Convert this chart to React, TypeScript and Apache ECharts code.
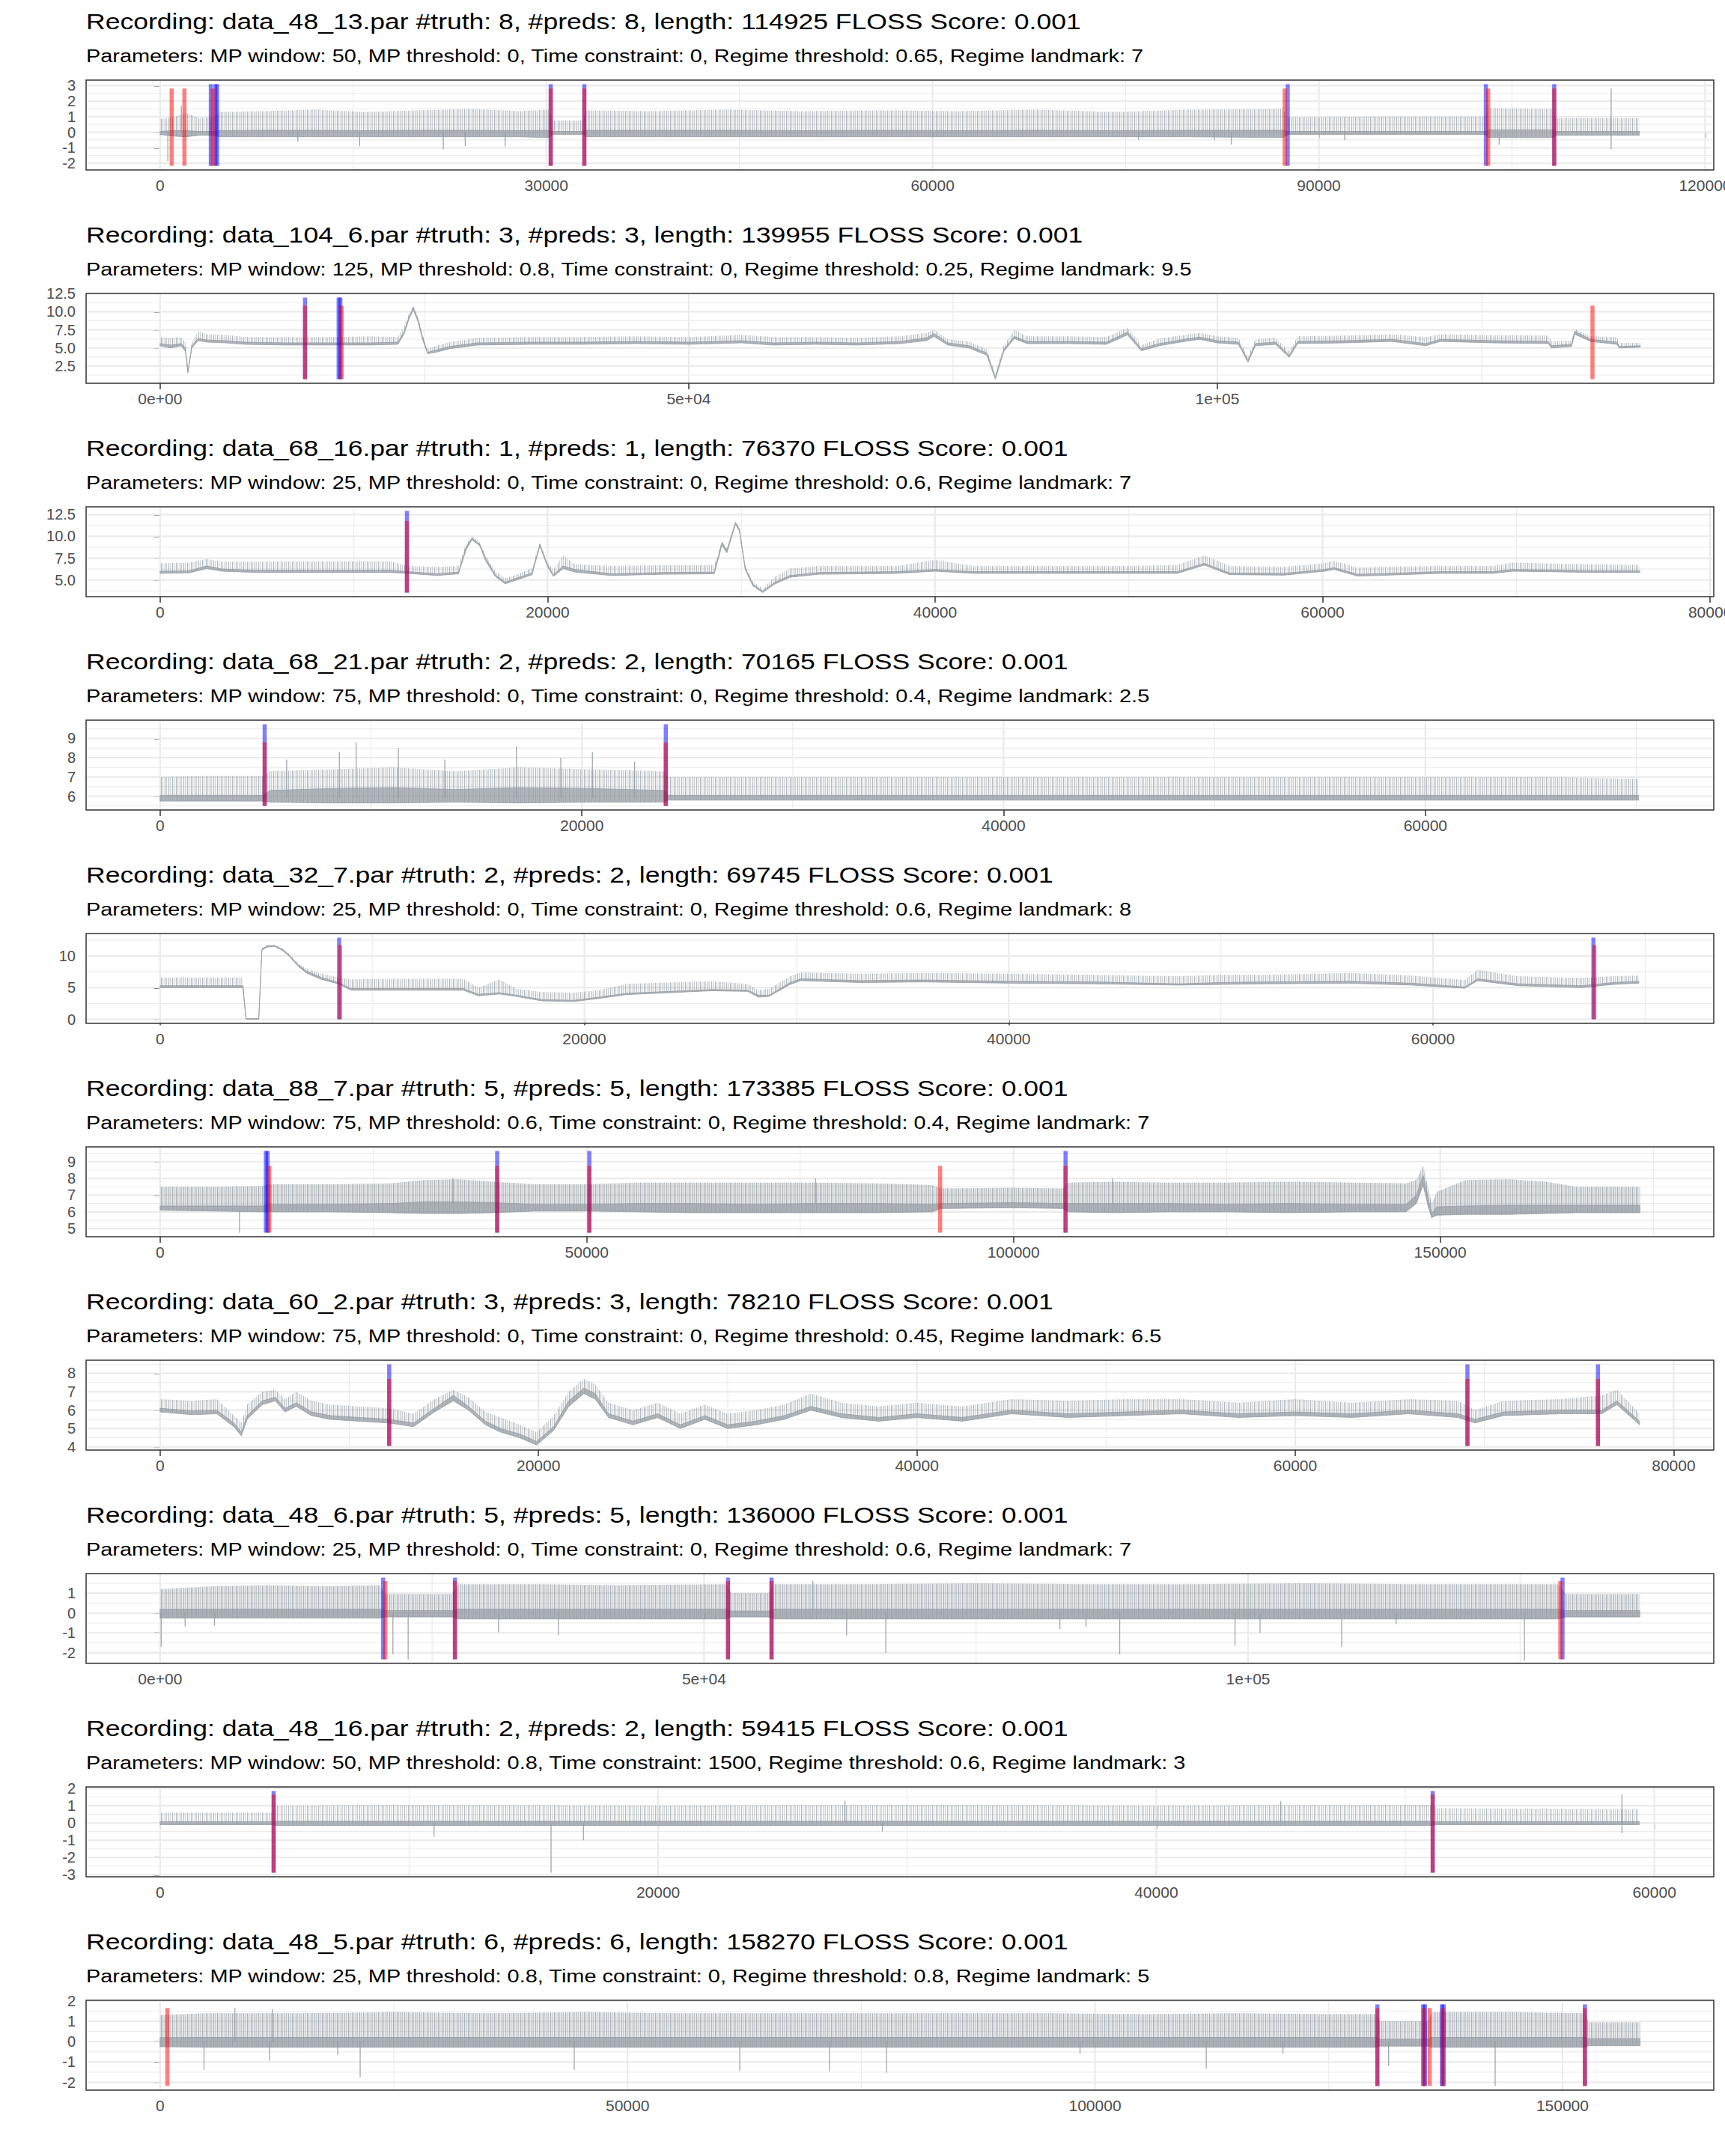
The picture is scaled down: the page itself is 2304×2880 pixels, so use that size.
import React, { useEffect, useRef } from "react";
import * as echarts from "echarts";

const FONT = "'Liberation Sans', Arial, Helvetica, sans-serif";

// ---------- panel metadata ----------
const recordings = ["data_48_13.par", "data_104_6.par", "data_68_16.par", "data_68_21.par", "data_32_7.par", "data_88_7.par", "data_60_2.par", "data_48_6.par", "data_48_16.par", "data_48_5.par"];
const truthCounts = [8, 3, 1, 2, 2, 5, 3, 5, 2, 6];
const predCounts = [8, 3, 1, 2, 2, 5, 3, 5, 2, 6];
const lengths = [114925, 139955, 76370, 70165, 69745, 173385, 78210, 136000, 59415, 158270];
const flossScores = ["0.001", "0.001", "0.001", "0.001", "0.001", "0.001", "0.001", "0.001", "0.001", "0.001"];
const mpWindow = ["50", "125", "25", "75", "25", "75", "75", "25", "50", "25"];
const mpThreshold = ["0", "0.8", "0", "0", "0", "0.6", "0", "0", "0.8", "0.8"];
const timeConstraint = ["0", "0", "0", "0", "0", "0", "0", "0", "1500", "0"];
const regimeThreshold = ["0.65", "0.25", "0.6", "0.4", "0.6", "0.4", "0.45", "0.6", "0.6", "0.8"];
const regimeLandmark = ["7", "9.5", "7", "2.5", "8", "7", "6.5", "7", "3", "5"];

// data extents on y (signal min, prediction-line top) and truth-line top (signal max)
const yLow = [-2.17, 0.68, 3.55, 5.5, 0, 4.76, 4.05, -2.33, -2.88, -2.18];
const yHigh = [3.09, 11.96, 12.92, 9.74, 12.9, 9.64, 8.49, 1.78, 1.85, 1.83];
const truthTop = [2.81, 10.84, 11.75, 8.8, 11.7, 8.75, 7.7, 1.61, 1.65, 1.65];

// ---------- ticks ----------
const xMajor = [
  [0, 30000, 60000, 90000, 120000],
  [0, 50000, 100000],
  [0, 20000, 40000, 60000, 80000],
  [0, 20000, 40000, 60000],
  [0, 20000, 40000, 60000],
  [0, 50000, 100000, 150000],
  [0, 20000, 40000, 60000, 80000],
  [0, 50000, 100000],
  [0, 20000, 40000, 60000],
  [0, 50000, 100000, 150000],
];
const xMajorLabels = [
  ["0", "30000", "60000", "90000", "120000"],
  ["0e+00", "5e+04", "1e+05"],
  ["0", "20000", "40000", "60000", "80000"],
  ["0", "20000", "40000", "60000"],
  ["0", "20000", "40000", "60000"],
  ["0", "50000", "100000", "150000"],
  ["0", "20000", "40000", "60000", "80000"],
  ["0e+00", "5e+04", "1e+05"],
  ["0", "20000", "40000", "60000"],
  ["0", "50000", "100000", "150000"],
];
const xMinor = [
  [15000, 45000, 75000, 105000],
  [25000, 75000, 125000],
  [10000, 30000, 50000, 70000],
  [10000, 30000, 50000, 70000],
  [10000, 30000, 50000, 70000],
  [25000, 75000, 125000, 175000],
  [10000, 30000, 50000, 70000],
  [25000, 75000, 125000],
  [10000, 30000, 50000],
  [25000, 75000, 125000],
];
const yMajor = [
  [-2, -1, 0, 1, 2, 3],
  [2.5, 5, 7.5, 10, 12.5],
  [5, 7.5, 10, 12.5],
  [6, 7, 8, 9],
  [0, 5, 10],
  [5, 6, 7, 8, 9],
  [4, 5, 6, 7, 8],
  [-2, -1, 0, 1],
  [-3, -2, -1, 0, 1, 2],
  [-2, -1, 0, 1, 2],
];
const yMajorLabels = [
  ["-2", "-1", "0", "1", "2", "3"],
  ["2.5", "5.0", "7.5", "10.0", "12.5"],
  ["5.0", "7.5", "10.0", "12.5"],
  ["6", "7", "8", "9"],
  ["0", "5", "10"],
  ["5", "6", "7", "8", "9"],
  ["4", "5", "6", "7", "8"],
  ["-2", "-1", "0", "1"],
  ["-3", "-2", "-1", "0", "1", "2"],
  ["-2", "-1", "0", "1", "2"],
];
const yMinor = [
  [-1.5, -0.5, 0.5, 1.5, 2.5],
  [1.25, 3.75, 6.25, 8.75, 11.25],
  [3.75, 6.25, 8.75, 11.25],
  [5.5, 6.5, 7.5, 8.5, 9.5],
  [2.5, 7.5, 12.5],
  [5.5, 6.5, 7.5, 8.5, 9.5],
  [4.5, 5.5, 6.5, 7.5, 8.5],
  [-2.5, -1.5, -0.5, 0.5, 1.5],
  [-2.5, -1.5, -0.5, 0.5, 1.5],
  [-1.5, -0.5, 0.5, 1.5],
];

// ---------- change points (x in thousands) ----------
const truth1 = [0.9, 1.89, 4.09, 30.34, 32.95, 87.35, 103.15, 108.28];
const preds1 = [3.94, 4.29, 4.43, 30.34, 32.95, 87.58, 102.97, 108.28];
const truth2 = [13.71, 17.17, 135.48];
const preds2 = [13.71, 16.89, 17.05];
const truth3 = [12.74];
const preds3 = [12.74];
const truth4 = [4.96, 23.98];
const preds4 = [4.96, 23.98];
const truth5 = [8.48, 67.6];
const preds5 = [8.44, 67.56];
const truth6 = [12.8, 39.5, 50.3, 91.4, 106.1];
const preds6 = [12.4, 12.6, 39.5, 50.3, 106.1];
const truth7 = [12.11, 69.1, 76.0];
const preds7 = [12.11, 69.1, 76.0];
const truth8 = [20.7, 27.1, 52.2, 56.2, 128.7];
const preds8 = [20.5, 27.1, 52.2, 56.2, 128.9];
const truth9 = [4.56, 51.1];
const preds9 = [4.56, 51.1];
const truth10 = [0.78, 130.2, 135.2, 135.8, 137.2, 152.4];
const preds10 = [130.2, 135.1, 135.3, 137.1, 137.3, 152.4];

// ---------- signal envelopes: [x (thousands), low, dense-core top, spike top] ----------
const sig1 = [
  [0, -0.15, 0.05, 0.85], [1.0, -0.25, 0.1, 0.95], [2.0, -0.3, 0.1, 1.25], [3.0, -0.2, 0.05, 0.9],
  [4.2, -0.2, 0.05, 0.95], [4.6, -0.3, 0.1, 1.3], [8, -0.3, 0.12, 1.35], [12, -0.3, 0.12, 1.45],
  [16, -0.3, 0.1, 1.3], [20, -0.3, 0.12, 1.4], [24, -0.3, 0.12, 1.5], [28, -0.3, 0.1, 1.35],
  [30.2, -0.35, 0.12, 1.45], [30.5, -0.15, 0.05, 0.75], [32.8, -0.15, 0.05, 0.75], [33.1, -0.3, 0.12, 1.4],
  [38, -0.3, 0.12, 1.35], [44, -0.3, 0.12, 1.45], [50, -0.3, 0.1, 1.35], [56, -0.3, 0.12, 1.4],
  [62, -0.3, 0.1, 1.35], [68, -0.3, 0.12, 1.45], [74, -0.3, 0.1, 1.3], [80, -0.3, 0.12, 1.45],
  [87.2, -0.35, 0.12, 1.5], [87.6, -0.15, 0.05, 0.95], [95, -0.15, 0.05, 1.0], [102.9, -0.15, 0.05, 1.0],
  [103.2, -0.35, 0.15, 1.55], [108.2, -0.35, 0.15, 1.5], [108.4, -0.2, 0.05, 0.9], [114.9, -0.2, 0.05, 0.9],
];
const sig2 = [
  [0, 5.3, 5.6, 6.5], [1.0, 5.0, 5.4, 6.4], [2.0, 5.3, 5.6, 6.5], [2.4, 4.5, 5.0, 5.8], [2.63, 1.55, 1.7, 1.9],
  [3.0, 5.0, 5.3, 5.8], [3.6, 6.0, 6.3, 7.3], [4.5, 5.8, 6.1, 6.9], [6.2, 5.7, 6.0, 6.8], [8, 5.5, 5.8, 6.5],
  [12, 5.4, 5.7, 6.5], [16, 5.4, 5.7, 6.5], [20, 5.4, 5.7, 6.6], [22.5, 5.5, 5.8, 6.5], [23.1, 7.0, 7.3, 8.0],
  [23.5, 8.8, 9.1, 9.6], [23.95, 10.3, 10.6, 10.84], [24.4, 8.6, 8.9, 9.3], [24.8, 6.3, 6.6, 7.0], [25.3, 4.2, 4.4, 4.8],
  [26.1, 4.4, 4.7, 5.3], [27.4, 4.9, 5.2, 5.8], [30, 5.4, 5.7, 6.4], [35, 5.5, 5.8, 6.5], [40, 5.5, 5.8, 6.5],
  [45, 5.6, 5.9, 6.6], [50, 5.5, 5.8, 6.5], [55, 5.7, 6.0, 6.8], [58, 5.4, 5.7, 6.5], [62, 5.5, 5.8, 6.5],
  [66, 5.4, 5.7, 6.4], [70, 5.6, 5.9, 6.6], [72.5, 6.0, 6.4, 7.1], [73.2, 6.6, 7.0, 7.5], [74.5, 5.4, 5.7, 6.2],
  [76.5, 5.0, 5.3, 5.9], [78.2, 4.0, 4.3, 4.8], [79.0, 0.68, 1.0, 1.3], [79.8, 4.5, 4.8, 5.4], [80.8, 6.3, 6.6, 7.5],
  [82, 5.6, 5.9, 6.6], [86, 5.6, 5.9, 6.6], [89.5, 5.5, 5.8, 6.5], [91.5, 6.8, 7.2, 7.8], [92.8, 4.6, 4.9, 5.4],
  [94.5, 5.3, 5.6, 6.3], [96.5, 5.8, 6.1, 6.7], [98.3, 6.2, 6.5, 7.1], [100, 5.7, 6.0, 6.6], [102, 5.5, 5.8, 6.4],
  [102.9, 3.0, 3.3, 3.8], [103.6, 5.3, 5.6, 6.2], [105.5, 5.5, 5.8, 6.4], [106.8, 3.7, 4.0, 4.5], [107.6, 5.6, 5.9, 6.6],
  [112, 5.7, 6.0, 6.7], [116.5, 5.9, 6.2, 6.9], [119.7, 5.3, 5.6, 6.5], [121.1, 5.9, 6.2, 6.9], [126, 5.7, 6.0, 6.75],
  [131.3, 5.6, 5.9, 6.7], [131.6, 5.0, 5.3, 5.9], [133.5, 5.2, 5.5, 6.0], [133.8, 6.9, 7.3, 7.64], [135.3, 5.9, 6.2, 6.6],
  [137.8, 5.5, 5.8, 6.5], [138.0, 5.0, 5.2, 5.7], [140.0, 5.1, 5.3, 5.7],
];
const sig3 = [
  [0, 5.75, 6.0, 6.9], [1.5, 5.8, 6.05, 7.0], [2.4, 6.3, 6.6, 7.4], [3.2, 6.0, 6.25, 7.1], [5, 5.85, 6.1, 7.1],
  [8, 5.85, 6.1, 7.15], [11.9, 5.85, 6.1, 7.15], [12.8, 5.75, 5.95, 6.6], [14.3, 5.5, 5.7, 6.5], [15.4, 5.7, 5.9, 6.6],
  [15.8, 8.5, 8.8, 9.2], [16.1, 9.6, 9.8, 10.0], [16.5, 8.9, 9.1, 9.3], [16.8, 7.2, 7.5, 7.8], [17.3, 5.4, 5.6, 6.0],
  [17.8, 4.55, 4.75, 5.2], [18.4, 5.0, 5.2, 5.6], [19.2, 5.6, 5.8, 6.4], [19.6, 8.9, 9.1, 9.3], [20.0, 6.5, 6.7, 7.0],
  [20.3, 5.4, 5.6, 6.2], [20.8, 6.3, 6.6, 7.8], [21.4, 5.9, 6.2, 6.8], [23.3, 5.5, 5.7, 6.6], [26, 5.65, 5.85, 6.7],
  [28.6, 5.7, 5.9, 6.7], [29.0, 9.0, 9.3, 9.5], [29.25, 8.1, 8.4, 8.6], [29.7, 11.4, 11.6, 11.75], [29.9, 10.6, 10.8, 11.0],
  [30.2, 6.2, 6.4, 6.7], [30.6, 4.3, 4.5, 4.8], [31.1, 3.55, 3.7, 4.0], [31.7, 4.5, 4.7, 5.3], [32.5, 5.3, 5.5, 6.3],
  [34, 5.65, 5.85, 6.6], [38, 5.75, 5.95, 6.6], [40, 6.0, 6.2, 7.3], [42, 5.75, 5.95, 6.6], [46, 5.75, 5.95, 6.6],
  [50, 5.75, 5.95, 6.6], [52.5, 5.75, 5.95, 6.7], [53.9, 6.7, 6.9, 7.8], [55.2, 5.6, 5.8, 6.6], [58, 5.55, 5.75, 6.5],
  [60.1, 6.0, 6.2, 6.9], [60.6, 6.2, 6.4, 7.2], [61.8, 5.45, 5.65, 6.4], [62.8, 5.5, 5.7, 6.5], [66, 5.75, 5.95, 6.6],
  [68.8, 5.75, 5.95, 6.6], [69.8, 6.0, 6.2, 7.0], [71.5, 5.95, 6.15, 6.9], [74, 5.85, 6.05, 6.8], [76.37, 5.85, 6.05, 6.7],
];
const sig4 = [
  [0, 5.75, 6.05, 7.0], [2, 5.75, 6.05, 7.05], [4.9, 5.75, 6.05, 7.05], [5.2, 5.7, 6.3, 7.3], [8, 5.65, 6.4, 7.4],
  [11, 5.65, 6.45, 7.5], [14, 5.7, 6.35, 7.3], [17, 5.65, 6.45, 7.5], [20.5, 5.7, 6.4, 7.4], [23.9, 5.7, 6.3, 7.3],
  [24.1, 5.8, 6.05, 7.0], [30, 5.8, 6.05, 7.0], [36, 5.8, 6.05, 7.0], [42, 5.8, 6.05, 7.0], [48, 5.8, 6.05, 7.0],
  [54, 5.8, 6.05, 7.0], [60, 5.8, 6.05, 7.0], [66, 5.8, 6.05, 7.0], [70.1, 5.8, 6.05, 6.9],
];
const sig5 = [
  [0, 5.0, 5.3, 6.6], [3.9, 5.0, 5.3, 6.6], [4.05, 0.0, 0.1, 0.2], [4.65, 0.0, 0.1, 0.2], [4.8, 10.9, 11.1, 11.2],
  [5.05, 11.4, 11.6, 11.7], [5.4, 11.5, 11.65, 11.7], [5.8, 10.8, 11.0, 11.1], [6.1, 9.9, 10.1, 10.3], [6.5, 8.4, 8.6, 8.9],
  [6.9, 7.3, 7.6, 8.0], [7.6, 6.3, 6.6, 7.2], [8.4, 5.6, 5.8, 6.6], [9, 4.6, 4.85, 6.3], [11, 4.6, 4.85, 6.4],
  [14.3, 4.6, 4.85, 6.4], [15, 3.7, 3.95, 5.0], [16, 4.0, 4.2, 6.3], [16.8, 3.6, 3.8, 4.8], [18, 2.9, 3.1, 4.3],
  [19.5, 2.8, 3.0, 4.2], [20.7, 3.3, 3.5, 4.6], [22, 3.9, 4.1, 5.6], [24, 4.2, 4.4, 5.8], [26, 4.5, 4.7, 6.0],
  [27.7, 4.4, 4.6, 5.6], [28.2, 3.5, 3.8, 4.6], [28.7, 3.6, 3.8, 4.8], [29.7, 5.5, 5.8, 6.8], [30.2, 6.1, 6.4, 7.4],
  [33, 5.8, 6.1, 7.2], [36, 5.9, 6.2, 7.3], [40, 5.7, 6.0, 7.2], [44, 5.6, 5.9, 7.0], [48, 5.4, 5.6, 6.8],
  [50, 5.5, 5.8, 7.0], [52, 5.6, 5.9, 7.0], [56, 5.7, 6.0, 7.3], [59, 5.4, 5.7, 6.9], [61.5, 4.9, 5.1, 6.2],
  [62.1, 6.1, 6.4, 7.8], [64, 5.3, 5.6, 6.8], [67, 5.0, 5.3, 6.5], [68.5, 5.5, 5.8, 6.8], [69.7, 5.7, 6.0, 6.9],
];
const sig6 = [
  [0, 6.1, 6.35, 7.5], [6, 6.05, 6.35, 7.5], [12.1, 6.0, 6.35, 7.55], [12.5, 6.0, 6.45, 7.65], [20, 6.0, 6.45, 7.65],
  [27, 5.95, 6.5, 7.7], [31, 5.9, 6.6, 7.9], [35, 5.9, 6.6, 7.95], [39, 5.95, 6.55, 7.8], [44, 6.05, 6.45, 7.65],
  [50, 6.05, 6.45, 7.65], [56, 6.0, 6.5, 7.75], [62, 5.95, 6.5, 7.75], [70, 5.95, 6.45, 7.75], [76, 5.95, 6.5, 7.75],
  [84, 5.95, 6.5, 7.7], [90.5, 6.0, 6.45, 7.6], [91.5, 6.2, 6.5, 7.4], [100, 6.25, 6.55, 7.45], [105.8, 6.2, 6.5, 7.4],
  [106.4, 6.0, 6.5, 7.75], [112, 5.95, 6.5, 7.8], [118, 6.0, 6.5, 7.75], [125, 6.0, 6.45, 7.75], [132, 5.95, 6.5, 7.8],
  [140, 6.0, 6.45, 7.75], [146, 6.0, 6.45, 7.7], [147.2, 6.5, 7.0, 7.9], [148.0, 7.6, 8.2, 8.75], [148.6, 6.3, 6.8, 7.4],
  [149.0, 5.65, 5.9, 6.5], [149.6, 5.8, 6.3, 7.2], [153, 5.85, 6.35, 7.9], [158, 5.85, 6.4, 7.95], [162.3, 5.9, 6.4, 7.8],
  [166, 5.95, 6.4, 7.5], [173.4, 5.95, 6.4, 7.5],
];
const sig7 = [
  [0, 5.9, 6.1, 6.6], [1.7, 5.75, 5.95, 6.5], [3.0, 5.8, 6.0, 6.6], [3.9, 5.1, 5.3, 5.7], [4.3, 4.6, 4.8, 5.3],
  [4.6, 5.5, 5.7, 6.3], [5.4, 6.3, 6.5, 7.0], [6.1, 6.5, 6.7, 7.1], [6.6, 5.9, 6.1, 6.6], [7.2, 6.2, 6.4, 7.0],
  [8, 5.7, 5.9, 6.5], [9, 5.5, 5.7, 6.3], [10.5, 5.4, 5.6, 6.2], [12.1, 5.3, 5.5, 6.1], [13.4, 5.1, 5.3, 5.8],
  [14.5, 5.9, 6.1, 6.6], [15.5, 6.5, 6.8, 7.1], [16.3, 6.0, 6.2, 6.7], [17.2, 5.2, 5.4, 5.9], [18, 4.8, 5.0, 5.6],
  [19, 4.5, 4.7, 5.2], [19.9, 4.1, 4.3, 4.8], [20.8, 4.9, 5.1, 5.7], [21.6, 6.2, 6.5, 7.0], [22.4, 6.9, 7.2, 7.7],
  [23.0, 6.6, 6.9, 7.4], [23.7, 5.6, 5.8, 6.4], [25, 5.2, 5.4, 6.0], [26.3, 5.6, 5.8, 6.4], [27.5, 5.0, 5.2, 5.8],
  [28.8, 5.5, 5.7, 6.3], [30, 5.0, 5.2, 5.8], [31.5, 5.2, 5.4, 6.0], [33, 5.5, 5.7, 6.3], [34.4, 6.0, 6.2, 6.9],
  [36, 5.6, 5.8, 6.4], [38, 5.4, 5.6, 6.2], [40, 5.6, 5.8, 6.4], [42.4, 5.4, 5.6, 6.2], [45, 5.8, 6.0, 6.6],
  [48, 5.6, 5.8, 6.5], [51, 5.7, 5.9, 6.6], [54, 5.8, 6.0, 6.6], [57, 5.6, 5.8, 6.4], [60, 5.7, 5.9, 6.6],
  [63, 5.6, 5.8, 6.4], [66, 5.8, 6.0, 6.6], [68.6, 5.6, 5.8, 6.5], [69.5, 5.3, 5.5, 6.0], [71, 5.7, 5.9, 6.5],
  [74, 5.8, 6.0, 6.6], [76.2, 5.8, 6.0, 6.8], [77.0, 6.3, 6.5, 7.1], [78.2, 5.2, 5.4, 5.8],
];
const sig8 = [
  [0, -0.25, 0.19, 1.2], [5, -0.25, 0.2, 1.35], [10, -0.25, 0.2, 1.4], [15, -0.25, 0.2, 1.35], [20.2, -0.25, 0.2, 1.4],
  [20.7, -0.2, 0.12, 0.95], [26.8, -0.2, 0.12, 0.95], [27.4, -0.3, 0.2, 1.45], [35, -0.3, 0.2, 1.45], [42, -0.3, 0.2, 1.4],
  [52.0, -0.3, 0.2, 1.45], [52.5, -0.2, 0.1, 1.0], [55.9, -0.2, 0.1, 1.0], [56.4, -0.3, 0.2, 1.45], [65, -0.3, 0.2, 1.45],
  [75, -0.3, 0.2, 1.5], [85, -0.3, 0.2, 1.45], [95, -0.3, 0.2, 1.45], [105, -0.3, 0.2, 1.5], [115, -0.3, 0.2, 1.45],
  [128.5, -0.3, 0.2, 1.45], [129.2, -0.2, 0.12, 0.95], [136, -0.2, 0.12, 0.95],
];
const sig9 = [
  [0, -0.1, 0.08, 0.6], [4.5, -0.1, 0.08, 0.6], [4.7, -0.15, 0.1, 1.0], [10, -0.15, 0.1, 1.05], [20, -0.15, 0.1, 1.0],
  [30, -0.15, 0.1, 1.05], [40, -0.15, 0.1, 1.0], [51, -0.15, 0.1, 1.05], [51.3, -0.1, 0.08, 0.85], [59.4, -0.1, 0.08, 0.8],
];
const sig10 = [
  [0, -0.25, 0.2, 1.3], [5, -0.28, 0.21, 1.4], [15, -0.28, 0.21, 1.4], [25, -0.28, 0.21, 1.45], [35, -0.28, 0.21, 1.4],
  [45, -0.28, 0.21, 1.45], [55, -0.28, 0.21, 1.4], [65, -0.28, 0.21, 1.4], [75, -0.28, 0.21, 1.4], [85, -0.28, 0.21, 1.4],
  [95, -0.28, 0.21, 1.4], [105, -0.28, 0.21, 1.35], [115, -0.28, 0.21, 1.4], [125, -0.28, 0.21, 1.35], [130.0, -0.28, 0.21, 1.35],
  [130.5, -0.22, 0.12, 1.0], [135.6, -0.22, 0.12, 1.0], [136.0, -0.28, 0.21, 1.45], [145, -0.28, 0.21, 1.45], [152.4, -0.28, 0.21, 1.4],
  [152.8, -0.2, 0.15, 0.95], [158.3, -0.2, 0.15, 0.95],
];

// ---------- isolated spikes / dips: [x (thousands), from, to] ----------
const spk1 = [[0.6, 0, -1.85], [1.65, 0, 1.7], [10.7, 0, -0.6], [15.5, 0, -0.9], [22, 0, -1.1], [23.7, 0, -0.9], [26.8, 0, -0.9], [76, 0, -0.5], [81.9, 0, -0.5], [83.2, 0, -0.8], [92, 0, -0.5], [104, 0, -0.8], [112.7, -1.1, 2.81]];
const spk2: number[][] = [];
const spk3: number[][] = [];
const spk4 = [[6, 5.9, 7.9], [8.5, 5.9, 8.3], [9.3, 5.9, 8.8], [11.3, 5.9, 8.5], [13.5, 5.9, 7.9], [16.9, 5.9, 8.6], [19, 5.9, 8.0], [20.5, 5.9, 8.3], [22.5, 5.9, 7.8]];
const spk5: number[][] = [];
const spk6 = [[9.3, 6.1, 4.76], [34.3, 6.5, 8.0], [76.8, 6.5, 8.0], [111.6, 6.5, 8.0]];
const spk7: number[][] = [];
const spk8 = [[0.1, 0, -1.7], [2.3, 0, -0.67], [5, 0, -0.63], [21.4, 0, -2.07], [22.8, 0, -2.33], [31.1, 0, -0.97], [36.6, 0, -1.1], [60, 0, 1.61], [63.1, 0, -1.13], [66.7, 0, -2.01], [82.7, 0, -0.82], [85.1, 0, -0.69], [88.2, 0, -2.08], [98.8, 0, -1.64], [101.1, 0, -1.0], [108.6, 0, -1.72], [113.6, 0, -0.57], [125.4, 0, -2.39]];
const spk9 = [[11, 0, -0.8], [15.7, 0, -2.88], [17, 0, -1.0], [27.5, 0, 1.3], [29, 0, -0.5], [45, 0, 1.25], [58.7, -0.6, 1.65]];
const spk10 = [[4.7, 0, -1.38], [8, 0, 1.65], [11.7, 0, -0.93], [12, 0, 1.6], [19, 0, -0.65], [21.4, 0, -1.75], [44.3, 0, -1.38], [62, 0, -1.44], [71.6, 0, -1.47], [77.7, 0, -1.53], [98.4, 0, -0.6], [111.9, 0, -1.32], [120.1, 0, -0.6], [131.4, 0, -1.2], [142.8, 0, -2.18]];

const signals = [sig1, sig2, sig3, sig4, sig5, sig6, sig7, sig8, sig9, sig10];
const spikes = [spk1, spk2, spk3, spk4, spk5, spk6, spk7, spk8, spk9, spk10];
const truths = [truth1, truth2, truth3, truth4, truth5, truth6, truth7, truth8, truth9, truth10];
const preds = [preds1, preds2, preds3, preds4, preds5, preds6, preds7, preds8, preds9, preds10];

// ---------- styling / layout ----------
const PLOT_LEFT = 115;
const PLOT_WIDTH = 2174;
const PLOT_HEIGHT = 120;
const PANEL_STEP = 285;
const FIRST_TOP = 107;
// how dense the spike haze looks in each panel (opacity of the light fill)
const hazeAlpha = [0.14, 0.1, 0.1, 0.12, 0.12, 0.3, 0.12, 0.28, 0.07, 0.28];

function makeStripes(): any {
  const c = document.createElement("canvas");
  c.width = 5;
  c.height = 2;
  const ctx = c.getContext("2d");
  if (ctx) {
    ctx.fillStyle = "rgba(140,148,156,0.6)";
    ctx.fillRect(0, 0, 1, 2);
    ctx.fillStyle = "rgba(140,148,156,0.35)";
    ctx.fillRect(2, 0, 1, 2);
  }
  return { image: c, repeat: "repeat", imageWidth: 5, imageHeight: 2 };
}

function labelFor(values: number[], labels: string[], v: number) {
  for (let i = 0; i < values.length; i++) {
    if (Math.abs(values[i] - v) < 1e-6 * Math.max(1, Math.abs(v))) return labels[i];
  }
  return "";
}

function buildOption() {
  const grids: any[] = [];
  const xAxes: any[] = [];
  const yAxes: any[] = [];
  const series: any[] = [];
  const graphics: any[] = [];
  const stripes = makeStripes();

  for (let k = 0; k < 10; k++) {
    const L = lengths[k];
    const top = FIRST_TOP + PANEL_STEP * k;
    const a = yLow[k];
    const b = yHigh[k];
    const span = b - a;
    grids.push({ left: PLOT_LEFT, top, width: PLOT_WIDTH, height: PLOT_HEIGHT, show: false, containLabel: false, outerBoundsMode: "none" });
    xAxes.push({
      type: "value",
      gridIndex: k,
      min: -0.05 * L,
      max: 1.05 * L,
      axisLine: { show: false },
      splitLine: { show: false },
      axisTick: { show: true, customValues: xMajor[k], length: 8, lineStyle: { color: "#333333", width: 1.5 } },
      axisLabel: {
        show: true,
        customValues: xMajor[k],
        margin: 10,
        color: "#4d4d4d",
        fontSize: 21,
        fontFamily: FONT,
        showMinLabel: true,
        showMaxLabel: true,
        hideOverlap: false,
        alignMaxLabel: "center",
        alignMinLabel: "center",
        formatter: (v: number) => labelFor(xMajor[k], xMajorLabels[k], v),
      },
    });
    yAxes.push({
      type: "value",
      gridIndex: k,
      min: a - 0.05 * span,
      max: b + 0.05 * span,
      axisLine: { show: false },
      splitLine: { show: false },
      axisTick: { show: true, customValues: yMajor[k], length: 8, lineStyle: { color: "#333333", width: 1.5 } },
      axisLabel: {
        show: true,
        customValues: yMajor[k],
        margin: 14,
        color: "#4d4d4d",
        fontSize: 20,
        lineHeight: 16,
        fontFamily: FONT,
        showMinLabel: true,
        showMaxLabel: true,
        hideOverlap: false,
        formatter: (v: number) => labelFor(yMajor[k], yMajorLabels[k], v),
      },
    });

    const sig = signals[k];
    const spk = spikes[k];
    const tr = truths[k];
    const pr = preds[k];
    const haze = hazeAlpha[k];

    series.push({
      type: "custom",
      xAxisIndex: k,
      yAxisIndex: k,
      silent: true,
      clip: false,
      data: [[0, a]],
      renderItem: (params: any, api: any) => {
        const cs = params.coordSys;
        const px = (v: number) => api.coord([v, a])[0];
        const py = (v: number) => api.coord([0, v])[1];
        const left = cs.x;
        const right = cs.x + cs.width;
        const topY = cs.y;
        const botY = cs.y + cs.height;
        const children: any[] = [];
        const gl = (x1: number, y1: number, x2: number, y2: number, w: number, c: string) =>
          children.push({ type: "line", shape: { x1, y1, x2, y2 }, style: { stroke: c, lineWidth: w, fill: null } });

        // grid lines
        yMinor[k].forEach((v) => gl(left, py(v), right, py(v), 1.1, "#ebebeb"));
        xMinor[k].forEach((v) => gl(px(v), topY, px(v), botY, 1.1, "#ebebeb"));
        yMajor[k].forEach((v) => gl(left, py(v), right, py(v), 2.2, "#ebebeb"));
        xMajor[k].forEach((v) => gl(px(v), topY, px(v), botY, 2.2, "#ebebeb"));

        // signal: spike haze (low -> spike top) and dense core (low -> core top)
        const upper = sig.map((s) => api.coord([s[0] * 1000, s[3]]));
        const lower = sig.map((s) => api.coord([s[0] * 1000, s[1]]));
        const core = sig.map((s) => api.coord([s[0] * 1000, s[2]]));
        const hazePts = upper.concat(lower.slice().reverse());
        children.push({ type: "polygon", shape: { points: hazePts }, style: { fill: `rgba(160,168,175,${haze})` } });
        children.push({ type: "polygon", shape: { points: hazePts }, style: { fill: stripes } });
        children.push({
          type: "polygon",
          shape: { points: core.concat(lower.slice().reverse()) },
          style: { fill: "rgba(150,157,164,0.7)", stroke: "rgba(150,157,164,0.8)", lineWidth: 1 },
        });
        // isolated spikes
        spk.forEach((s) => {
          const x = px(s[0] * 1000);
          gl(x, py(s[1]), x, py(s[2]), 1.3, "rgba(150,158,165,0.9)");
        });

        // predicted change points (blue), then truth (red) on top
        pr.forEach((v) => {
          const x = px(v * 1000);
          gl(x, py(a), x, py(b), 5.5, "rgba(0,0,255,0.5)");
        });
        tr.forEach((v) => {
          const x = px(v * 1000);
          gl(x, py(a), x, py(truthTop[k]), 5.5, "rgba(255,0,0,0.5)");
        });

        // panel border
        children.push({
          type: "rect",
          shape: { x: left, y: topY, width: cs.width, height: cs.height },
          style: { fill: null, stroke: "#333333", lineWidth: 1.5 },
        });
        return { type: "group", children };
      },
    });

    const title = `Recording: ${recordings[k]} #truth: ${truthCounts[k]}, #preds: ${predCounts[k]}, length: ${L} FLOSS Score: ${flossScores[k]}`;
    const subtitle = `Parameters: MP window: ${mpWindow[k]}, MP threshold: ${mpThreshold[k]}, Time constraint: ${timeConstraint[k]}, Regime threshold: ${regimeThreshold[k]}, Regime landmark: ${regimeLandmark[k]}`;
    graphics.push({
      type: "text",
      x: PLOT_LEFT,
      y: 29 + PANEL_STEP * k,
      scaleX: 1.185,
      silent: true,
      style: { text: title, fontSize: 30, fontFamily: FONT, fill: "#000000", align: "left", verticalAlign: "middle" },
    });
    graphics.push({
      type: "text",
      x: PLOT_LEFT,
      y: 74.5 + PANEL_STEP * k,
      scaleX: 1.18,
      silent: true,
      style: { text: subtitle, fontSize: 24.5, fontFamily: FONT, fill: "#000000", align: "left", verticalAlign: "middle" },
    });
  }

  return {
    animation: false,
    backgroundColor: "#ffffff",
    grid: grids,
    xAxis: xAxes,
    yAxis: yAxes,
    series,
    graphic: graphics,
  };
}

export default function App() {
  const ref = useRef<HTMLDivElement>(null);
  useEffect(() => {
    if (!ref.current) return;
    const chart = echarts.init(ref.current, null, { renderer: "svg", width: 2304, height: 2880 });
    chart.setOption(buildOption() as any);
    return () => chart.dispose();
  }, []);
  return (
    <div
      ref={ref}
      style={{ position: "absolute", left: 0, top: 0, width: 2304, height: 2880, background: "#ffffff" }}
    />
  );
}
